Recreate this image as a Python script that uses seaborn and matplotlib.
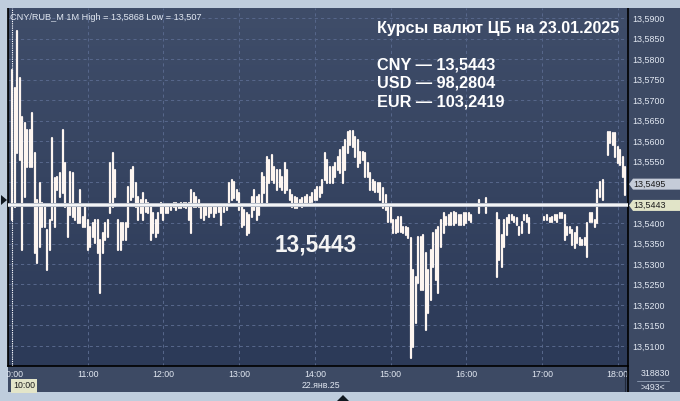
import matplotlib
matplotlib.use("Agg")
import matplotlib.pyplot as plt
import numpy as np
import pandas as pd
import seaborn as sns
from matplotlib.colors import LinearSegmentedColormap
from matplotlib.patches import Polygon, Rectangle
from matplotlib.lines import Line2D

# --- data -----------------------------------------------------------------
SYMBOL = "CNY/RUB_M 1M"
SESSION_HIGH = 13.5868
SESSION_LOW = 13.507
STEP_MIN = 2            # one bar per 2 minutes, starting 10:00
CB_RATE = 13.5443
LAST_CLOSE = 13.5495
VOLUME = 318830
N_BARS = 493
CB_TITLE = "Курсы валют ЦБ на 23.01.2025"
CB_LINES = ["CNY — 13,5443", "USD — 98,2804", "EUR — 103,2419"]
DATE_LABEL = "22.янв.25"
HOUR_LABELS = ["10:00", "11:00", "12:00", "13:00", "14:00",
               "15:00", "16:00", "17:00", "18:00"]
PRICE_TICKS = [13.51, 13.515, 13.52, 13.525, 13.53, 13.535, 13.54, 13.545,
               13.55, 13.555, 13.56, 13.565, 13.57, 13.575, 13.58, 13.585, 13.59]

bar_high = [
    13.5774, 13.5730, 13.5868, 13.5754, 13.5659, 13.5644, 13.5627, 13.5627, 13.5669, 13.5571,
    13.5456, 13.5498, 13.5449, 13.5439, 13.5383, 13.5408, 13.5608, 13.5510, 13.5513, 13.5522,
    13.5627, 13.5547, 13.5439, 13.5525, 13.5522, 13.5439, 13.5439, 13.5481, 13.5415, 13.5439,
    13.5408, 13.5390, 13.5400, 13.5408, 13.5408, 13.5359, 13.5376, 13.5400, 13.5408, 13.5547,
    13.5571, 13.5530, 13.5408, 13.5400, 13.5400, 13.5400, 13.5488, 13.5530, 13.5537, 13.5498,
    13.5464, 13.5456, 13.5473, 13.5456, 13.5449, 13.5439, 13.5425, 13.5408, 13.5425, 13.5449,
    13.5439, 13.5439, 13.5439, 13.5444, 13.5449, 13.5449, 13.5444, 13.5449, 13.5449, 13.5449,
    13.5449, 13.5481, 13.5473, 13.5464, 13.5456, 13.5444, 13.5444, 13.5444, 13.5439, 13.5444,
    13.5439, 13.5439, 13.5444, 13.5439, 13.5444, 13.5444, 13.5498, 13.5505, 13.5500, 13.5481,
    13.5473, 13.5439, 13.5432, 13.5425, 13.5420, 13.5464, 13.5481, 13.5464, 13.5469, 13.5522,
    13.5513, 13.5561, 13.5554, 13.5566, 13.5537, 13.5530, 13.5530, 13.5513, 13.5547, 13.5530,
    13.5481, 13.5469, 13.5464, 13.5461, 13.5456, 13.5461, 13.5464, 13.5469, 13.5464, 13.5473,
    13.5481, 13.5488, 13.5488, 13.5505, 13.5571, 13.5554, 13.5537, 13.5537, 13.5547, 13.5561,
    13.5579, 13.5586, 13.5603, 13.5622, 13.5625, 13.5625, 13.5610, 13.5603, 13.5574, 13.5574,
    13.5571, 13.5547, 13.5522, 13.5505, 13.5500, 13.5498, 13.5498, 13.5486, 13.5469, 13.5439,
    13.5439, 13.5408, 13.5408, 13.5415, 13.5415, 13.5390, 13.5390, 13.5388, 13.5364, 13.5285,
    13.5268, 13.5366, 13.5366, 13.5371, 13.5327, 13.5285, 13.5334, 13.5376, 13.5383, 13.5390,
    13.5408, 13.5425, 13.5415, 13.5420, 13.5425, 13.5427, 13.5425, 13.5420, 13.5420, 13.5425,
    13.5425, 13.5425, 13.5420, None, None, 13.5456, None, None, 13.5461, None,
    None, None, 13.5425, 13.5408, 13.5371, 13.5408, 13.5412, 13.5420, 13.5420, 13.5415,
    13.5412, 13.5390, 13.5403, 13.5420, 13.5420, 13.5412, None, None, None, None,
    None, 13.5415, 13.5420, 13.5412, 13.5415, 13.5420, 13.5420, 13.5425, 13.5425, 13.5420,
    13.5390, 13.5390, 13.5383, 13.5376, 13.5390, 13.5364, 13.5359, 13.5364, 13.5400, 13.5425,
    13.5425, 13.5408, 13.5481, 13.5500, 13.5505, None, 13.5622, 13.5622, 13.5620, 13.5620,
    13.5586, 13.5579, 13.5561, 13.5537,
]

bar_low = [
    13.5408, 13.5439, 13.5571, 13.5554, 13.5334, 13.5464, 13.5537, 13.5537, 13.5537, 13.5327,
    13.5303, 13.5342, 13.5390, 13.5390, 13.5285, 13.5334, 13.5408, 13.5390, 13.5481, 13.5464,
    13.5473, 13.5439, 13.5366, 13.5420, 13.5415, 13.5408, 13.5400, 13.5400, 13.5390, 13.5390,
    13.5334, 13.5342, 13.5366, 13.5351, 13.5327, 13.5229, 13.5327, 13.5359, 13.5366, 13.5425,
    13.5439, 13.5464, 13.5334, 13.5334, 13.5359, 13.5359, 13.5390, 13.5456, 13.5464, 13.5439,
    13.5408, 13.5425, 13.5408, 13.5427, 13.5425, 13.5359, 13.5376, 13.5366, 13.5376, 13.5425,
    13.5408, 13.5425, 13.5425, 13.5432, 13.5439, 13.5432, 13.5437, 13.5437, 13.5439, 13.5437,
    13.5408, 13.5376, 13.5439, 13.5439, 13.5439, 13.5412, 13.5408, 13.5420, 13.5415, 13.5425,
    13.5415, 13.5425, 13.5427, 13.5395, 13.5427, 13.5432, 13.5449, 13.5456, 13.5461, 13.5456,
    13.5432, 13.5390, 13.5395, 13.5371, 13.5376, 13.5415, 13.5432, 13.5408, 13.5420, 13.5449,
    13.5473, 13.5449, 13.5498, 13.5505, 13.5498, 13.5481, 13.5488, 13.5481, 13.5473, 13.5481,
    13.5456, 13.5439, 13.5437, 13.5437, 13.5444, 13.5439, 13.5444, 13.5444, 13.5449, 13.5452,
    13.5456, 13.5456, 13.5464, 13.5473, 13.5505, 13.5498, 13.5498, 13.5498, 13.5513, 13.5530,
    13.5522, 13.5498, 13.5530, 13.5571, 13.5591, 13.5586, 13.5561, 13.5537, 13.5547, 13.5554,
    13.5513, 13.5513, 13.5481, 13.5481, 13.5476, 13.5476, 13.5456, 13.5437, 13.5432, 13.5403,
    13.5403, 13.5376, 13.5376, 13.5378, 13.5378, 13.5376, 13.5371, 13.5364, 13.5070, 13.5097,
    13.5156, 13.5254, 13.5237, 13.5237, 13.5139, 13.5180, 13.5212, 13.5293, 13.5261, 13.5229,
    13.5342, 13.5376, 13.5395, 13.5395, 13.5395, 13.5395, 13.5400, 13.5395, 13.5395, 13.5395,
    13.5400, 13.5408, 13.5403, None, None, 13.5425, None, None, 13.5425, None,
    None, None, 13.5268, 13.5310, 13.5293, 13.5342, 13.5371, 13.5400, 13.5408, 13.5403,
    13.5395, 13.5371, 13.5376, 13.5408, 13.5403, 13.5376, None, None, None, None,
    None, 13.5408, 13.5408, 13.5403, 13.5403, 13.5408, 13.5403, 13.5412, 13.5412, 13.5359,
    13.5371, 13.5376, 13.5347, 13.5339, 13.5351, 13.5347, 13.5347, 13.5347, 13.5317, 13.5403,
    13.5403, 13.5390, 13.5400, 13.5464, 13.5456, None, 13.5566, 13.5596, 13.5591, 13.5561,
    13.5547, 13.5542, 13.5513, 13.5469,
]

# --- style ----------------------------------------------------------------
W, H = 680, 401
FRAME = "#bfcddd"
PANEL = "#3d4a64"
TXT = "#e2e8f2"
GRID = "#56668a"
BAR = "#fdf5f0"

sns.set_style("dark")
plt.rcParams["font.family"] = ["Liberation Sans", "DejaVu Sans"]


def fx(px):
    return px / W


def fy(py):
    return 1 - py / H


fmt = lambda v: f"{v:.4f}".replace(".", ",")

bars = pd.DataFrame({
    "minute": np.arange(len(bar_high)) * STEP_MIN,
    "high": pd.to_numeric(pd.Series(bar_high), errors="coerce"),
    "low": pd.to_numeric(pd.Series(bar_low), errors="coerce"),
}).dropna()
long = bars.reset_index().melt(id_vars=["index", "minute"],
                               value_vars=["high", "low"], value_name="price")

fig = plt.figure(figsize=(W / 100, H / 100), dpi=100, facecolor=FRAME)
fig.patches.append(Rectangle((fx(8), fy(392)), fx(672), 384 / H,
                             transform=fig.transFigure, fc=PANEL, ec="none", zorder=-2))

ax = fig.add_axes([fx(8), fy(366), fx(620), 358 / H])

grad = LinearSegmentedColormap.from_list("bg", ["#3f4d69", "#2c3a58"])
ax.imshow(np.linspace(0, 1, 256)[:, None], extent=(0, 1, 0, 1), transform=ax.transAxes,
          cmap=grad, aspect="auto", zorder=-1)

sns.lineplot(data=long, x="minute", y="price", units="index", estimator=None,
             sort=False, color=BAR, lw=1.6, ax=ax, legend=False, zorder=2)

ax.axhline(CB_RATE, color="#b9bfca", lw=2.9, zorder=4)
ax.axhline(CB_RATE, color="white", lw=1.2, zorder=5)
ax.axvline(0, color="white", ls=(0, (1, 1)), lw=0.8, zorder=3)

ax.set_xlim(-3.2, 488.2)
ax.set_ylim(13.5051, 13.5925)
ax.set_xlabel("")
ax.set_ylabel("")

# tick labels that sit under the price tags are hidden, as in the terminal
tagged = [LAST_CLOSE, CB_RATE]
hide = lambda v: any(abs(v - t) < 0.0015 for t in tagged)
ax.yaxis.tick_right()
ax.set_yticks(PRICE_TICKS)
ax.set_yticklabels(["" if hide(v) else fmt(v) for v in PRICE_TICKS])
hour_pos = [60 * i for i in range(len(HOUR_LABELS))]
ax.set_xticks(hour_pos)
ax.set_xticklabels(HOUR_LABELS)
ax.tick_params(axis="y", length=0, pad=3, labelsize=6.4, labelcolor=TXT)
ax.tick_params(axis="x", length=0, pad=3.2, labelsize=6.3, labelcolor=TXT)

ax.set_axisbelow(True)
ax.grid(True, color=GRID, ls=(0, (3, 3)), lw=0.75)
for side in ["left", "bottom", "right"]:
    ax.spines[side].set_visible(True)
    ax.spines[side].set_color("black")
    ax.spines[side].set_linewidth(1.2)
ax.spines["top"].set_visible(False)

# texts inside the plot
ax.text(0.004, 0.985, f"{SYMBOL} High = {fmt(SESSION_HIGH)} Low = {SESSION_LOW:.3f}".replace(".", ","),
        transform=ax.transAxes, ha="left", va="top", fontsize=6.6, color=TXT)
fig.text(fx(377), fy(33.3), CB_TITLE, fontsize=11.6, fontweight="bold", color="white",
         ha="left", va="baseline")
for i, line in enumerate(CB_LINES):
    fig.text(fx(377), fy(69.3 + 18.7 * i), line, fontsize=11.7, fontweight="bold",
             color="white", ha="left", va="baseline")
fig.text(fx(275), fy(251.7), fmt(CB_RATE), fontsize=16.3, fontweight="bold",
         color="#f4f4f4", ha="left", va="baseline")

# price tags on the right axis
inv = fig.transFigure.inverted()
for price, fc in [(LAST_CLOSE, "#c5ccd8"), (CB_RATE, "#e1e4c8")]:
    yc = ax.transData.transform((0, price))[1]
    xs = [629, 633, 680, 680, 633]
    ys = [yc, yc + 5.5, yc + 5.5, yc - 5.5, yc - 5.5]
    pts = inv.transform(np.column_stack([xs, ys]))
    fig.patches.append(Polygon(pts, closed=True, transform=fig.transFigure,
                               fc=fc, ec="none", zorder=3))
    fig.text(fx(633), inv.transform((0, yc))[1], fmt(price), fontsize=6.4,
             color="#1c1c1c", ha="left", va="center", zorder=4)

# bottom strip labels
fig.text(fx(24), fy(386), HOUR_LABELS[0], fontsize=6.3, color="#1c1c1c", ha="center",
         va="center", zorder=12,
         bbox=dict(boxstyle="square,pad=0.25", fc="#e3e5c9", ec="none"))
fig.text(fx(321), fy(386), DATE_LABEL, fontsize=6.3, color=TXT, ha="center", va="center")
fig.text(fx(655), fy(374), str(VOLUME), fontsize=6.3, color=TXT, ha="center", va="center")
fig.text(fx(653), fy(388), f">{N_BARS}<", fontsize=6.3, color=TXT, ha="center", va="center")
fig.lines.append(Line2D([fx(637), fx(669)], [fy(380.5), fy(380.5)], transform=fig.transFigure,
                        color="#8593aa", lw=0.7))
fig.lines.append(Line2D([fx(628), fx(628)], [fy(366), fy(392)], transform=fig.transFigure,
                        color="black", lw=1.2))
fig.lines.append(Line2D([fx(625), fx(625)], [fy(372), fy(392)], transform=fig.transFigure,
                        color="#20283a", lw=0.8))

# outer light frame, drawn over the panel edges
for rect in [(0, 0, 7.3, H), (0, 0, W, 7.5), (0, 392, W, 9)]:
    x0, y0, w, h = rect
    fig.patches.append(Rectangle((fx(x0), fy(y0 + h)), w / W, h / H,
                                 transform=fig.transFigure, fc=FRAME, ec="none", zorder=10))
for tri in [[(1, 195), (1, 205), (7, 200)], [(337, 401), (349, 401), (343, 395)]]:
    fig.patches.append(Polygon([(fx(a), fy(b)) for a, b in tri], closed=True,
                               transform=fig.transFigure, fc="#101820", ec="none", zorder=11))

fig.savefig("out.png", dpi=100, facecolor=FRAME)
